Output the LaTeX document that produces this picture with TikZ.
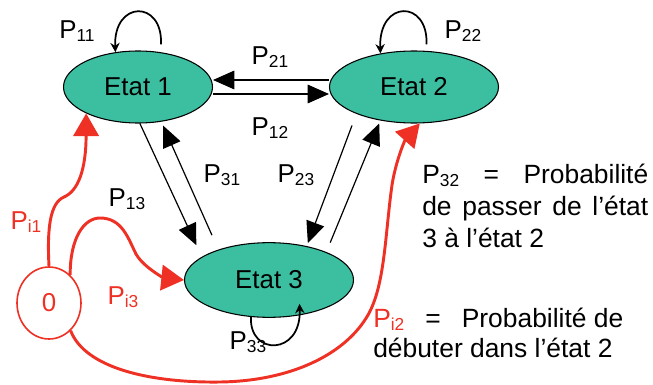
\documentclass[tikz,border=0pt]{standalone}
\usepackage{fontspec}
\setmainfont{Liberation Sans}
\usetikzlibrary{shapes.geometric,arrows.meta,calc}
\definecolor{vert}{RGB}{59,191,160}
\definecolor{rouge}{RGB}{238,49,36}
\newcommand\Psub[1]{\raisebox{-2.5pt}{\fontsize{13}{13}\selectfont #1}}

\begin{document}
\begin{tikzpicture}[x=0.75pt,y=-0.75pt,font=\fontsize{19.4}{22}\selectfont,
  etat/.style={ellipse,draw,fill=vert,line width=0.8pt,inner sep=0pt},
  fleche/.style={-{Triangle[length=16pt,width=14pt]},line width=0.9pt},
  boucle/.style={-{Stealth[length=7pt,width=7pt]},line width=1.3pt},
  init/.style={draw=rouge,line width=2.2pt,-{Triangle[length=17pt,width=19pt]}}]
\useasboundingbox (0,0) rectangle (653,385);
% les etats
\node[etat,minimum width=111.75pt,minimum height=54pt] (E1) at (138,87) {Etat 1};
\node[etat,minimum width=126.75pt,minimum height=54pt] (E2) at (414,87) {Etat 2};
\node[etat,minimum width=126.75pt,minimum height=56pt] (E3) at (269,280) {Etat 3};
\node[ellipse,draw=rouge,fill=white,line width=1.2pt,inner sep=0pt,
  minimum width=48pt,minimum height=54pt,text=rouge] (Z) at (49,303) {0};
% transitions
\draw[fleche] ([yshift=5.25pt]E2.west) -- ([yshift=5.25pt]E1.east);
\draw[fleche] ([yshift=-5.25pt]E1.east) -- ([yshift=-5.25pt]E2.west);
\draw[fleche,shorten >=9.6pt] (E1.-87) -- (E3.161);
\draw[fleche,shorten <=11.8pt,shorten >=3.2pt] (E3.149) -- (E1.-56);
\draw[fleche,shorten <=9.3pt,shorten >=2.4pt] (E2.-155) -- (E3.42);
\draw[fleche,shorten <=7.7pt,shorten >=2.4pt] (E3.26) -- (E2.-135);
\draw[boucle] ($(E1.north)+(23,-6)$) .. controls +(2,-45) and +(-2,-52) .. (E1.123);
\draw[boucle] ($(E2.north)+(12.5,-6)$) .. controls +(2,-45) and +(-2,-54) .. (E2.135);
\draw[boucle] (E3.-116) .. controls +(-2,39) and +(2,52) .. ($(E3.south)+(30.5,-14)$);
% probabilites initiales
\draw[init] (Z.north) .. controls (47,228) and (50,203) .. (64,197)
  .. controls (78,191) and (86,170) .. (E1.-153);
\draw[init] (Z.53) .. controls (70,238) and (84,218) .. (100,218)
  .. controls (122,218) and (128,238) .. (136,254)
  .. controls (144,268) and (165,278) .. (E3.west);
\draw[init] (Z.-52) .. controls (85,368) and (150,383) .. (220,382)
  .. controls (290,381) and (345,355) .. (368,315)
  .. controls (385,285) and (385,235) .. (392,185)
  .. controls (396,160) and (405,140) .. (E2.-81);
% etiquettes
\node (p11) at (77,31) {P\Psub{11}};
\node (p22) at (463,31) {P\Psub{22}};
\node (p21) at (270,57) {P\Psub{21}};
\node (p12) at (270,128) {P\Psub{12}};
\node (p31) at (222,175) {P\Psub{31}};
\node (p23) at (296,175) {P\Psub{23}};
\node (p13) at (127,199) {P\Psub{13}};
\node (p33) at (248,342) {P\Psub{33}};
\node[text=rouge] (pi1) at (26,222) {P\Psub{i1}};
\node[text=rouge] (pi3) at (123,297) {P\Psub{i3}};
\node[anchor=base west,inner sep=0pt] (def32) at (422,183)
  {\parbox[t]{169.5pt}{\fontsize{19.8}{24}\selectfont P\Psub{32}\hfill=\hfill Probabilité\\
  de\hfill passer\hfill de\hfill l’état\\ 3 à l’état 2}};
\node[anchor=base west,inner sep=0pt] (defi2) at (373,327)
  {\parbox[t]{187.5pt}{\fontsize{19.8}{22.5}\selectfont \textcolor{rouge}{P\Psub{i2}}\hfill=\hfill Probabilité de\\
  débuter dans l’état 2}};
\end{tikzpicture}
\end{document}
